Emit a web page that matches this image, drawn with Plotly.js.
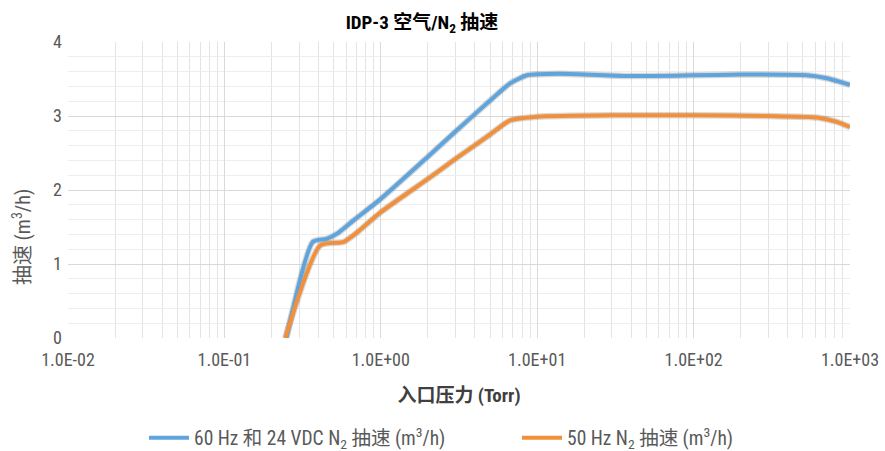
<!DOCTYPE html>
<html>
<head>
<meta charset="utf-8">
<script src="https://cdn.plot.ly/plotly-3.0.1.min.js"></script>
<style>html,body{margin:0;padding:0;background:#fff;}#chart{width:885px;height:451px;}</style>
</head>
<body>
<div id="chart"></div>
<script>
// Data
const pressure60 = [0.249, 0.368, 0.45, 0.525, 0.67, 1.0, 2.0, 3.0, 5.0, 6.7, 8.6, 14, 40, 100, 200, 530, 710, 1000];
const speed60    = [0,     1.30,  1.34, 1.41,  1.59, 1.88, 2.45, 2.79, 3.21, 3.44, 3.55, 3.57, 3.54, 3.55, 3.56, 3.55, 3.51, 3.42];
const pressure50 = [0.245, 0.41, 0.58, 0.70, 1.0, 2.0, 3.0, 5.0, 6.7, 10, 30, 100, 300, 616, 826, 1000];
const speed50    = [0,     1.25, 1.30, 1.42, 1.70, 2.15, 2.42, 2.75, 2.94, 2.99, 3.01, 3.01, 3.00, 2.98, 2.92, 2.85];
const xTickVals  = [0.01, 0.1, 1, 10, 100, 1000];
const xTickText  = ["1.0E-02", "1.0E-01", "1.0E+00", "1.0E+01", "1.0E+02", "1.0E+03"];
const name60 = "60 Hz 和 24 VDC N<sub>2</sub> 抽速 (m<sup>3</sup>/h)";
const name50 = "50 Hz N<sub>2</sub> 抽速 (m<sup>3</sup>/h)";
const yTitle = "抽速 (m<sup>3</sup>/h)";

const FONT = "'Liberation Sans Narrow', 'Roboto Condensed', Roboto, 'Noto Sans CJK SC', sans-serif";
const blue = "#5fa4dc", orange = "#f28f3a", shadow = "rgba(60,60,60,0.2)";

const traces = [
  {x: pressure60, y: speed60, mode: "lines", line: {color: shadow, width: 6.5, shape: "spline", smoothing: 0.6}, showlegend: false, hoverinfo: "skip"},
  {x: pressure50, y: speed50, mode: "lines", line: {color: shadow, width: 6.5, shape: "spline", smoothing: 0.6}, showlegend: false, hoverinfo: "skip"},
  {x: pressure60, y: speed60, mode: "lines", name: name60, line: {color: blue, width: 4, shape: "spline", smoothing: 0.6}},
  {x: pressure50, y: speed50, mode: "lines", name: name50, line: {color: orange, width: 4, shape: "spline", smoothing: 0.6}}
];

const layout = {
  width: 885, height: 451,
  margin: {l: 68, r: 35, t: 42, b: 113},
  paper_bgcolor: "#fff", plot_bgcolor: "#fff",
  font: {family: FONT, color: "#595959", size: 18},
  title: {text: "<b>IDP-3 空气/N<sub>2</sub> 抽速</b>", font: {family: FONT, size: 19, color: "#000"}, xref: "container", x: 422/885, xanchor: "center", y: 1 - 22/451, yref: "container", yanchor: "middle"},
  xaxis: {
    type: "log", range: [-2, 3], automargin: false,
    tickmode: "array", tickvals: xTickVals, ticktext: xTickText,
    showgrid: true, gridcolor: "#d9d9d9", gridwidth: 1,
    minor: {dtick: "D1", showgrid: true, gridcolor: "#e4e4e4", gridwidth: 1, ticks: ""},
    zeroline: false, showline: false, ticks: "",
    tickfont: {size: 18, color: "#595959"},
    ticklabelstandoff: 9,
    title: {text: "<b>入口压力 (Torr)</b>", font: {size: 19, color: "#404040"}, standoff: 19}
  },
  yaxis: {
    range: [0, 4], dtick: 1, tick0: 0, automargin: false,
    showgrid: true, gridcolor: "#d9d9d9", gridwidth: 1,
    minor: {dtick: 0.2, showgrid: true, gridcolor: "#eeeeee", gridwidth: 1, ticks: ""},
    zeroline: false, showline: false, ticks: "",
    tickfont: {size: 18, color: "#595959"},
    ticklabelstandoff: 5
  },
  annotations: [
    {text: yTitle, textangle: -90, xref: "paper", yref: "paper", x: (22 - 68) / 782, y: (338 - 237) / 296,
     xanchor: "center", yanchor: "middle", showarrow: false, font: {size: 20, color: "#595959"}}
  ],
  legend: {orientation: "h", xref: "container", yref: "container", x: 144/885, xanchor: "left", y: 1 - 438/451, yanchor: "middle",
           font: {size: 19.5, color: "#595959"}, itemwidth: 40, entrywidth: 318, entrywidthmode: "pixels", traceorder: "normal"},
  showlegend: true
};

Plotly.newPlot("chart", traces, layout, {displayModeBar: false, staticPlot: true});
</script>
</body>
</html>
